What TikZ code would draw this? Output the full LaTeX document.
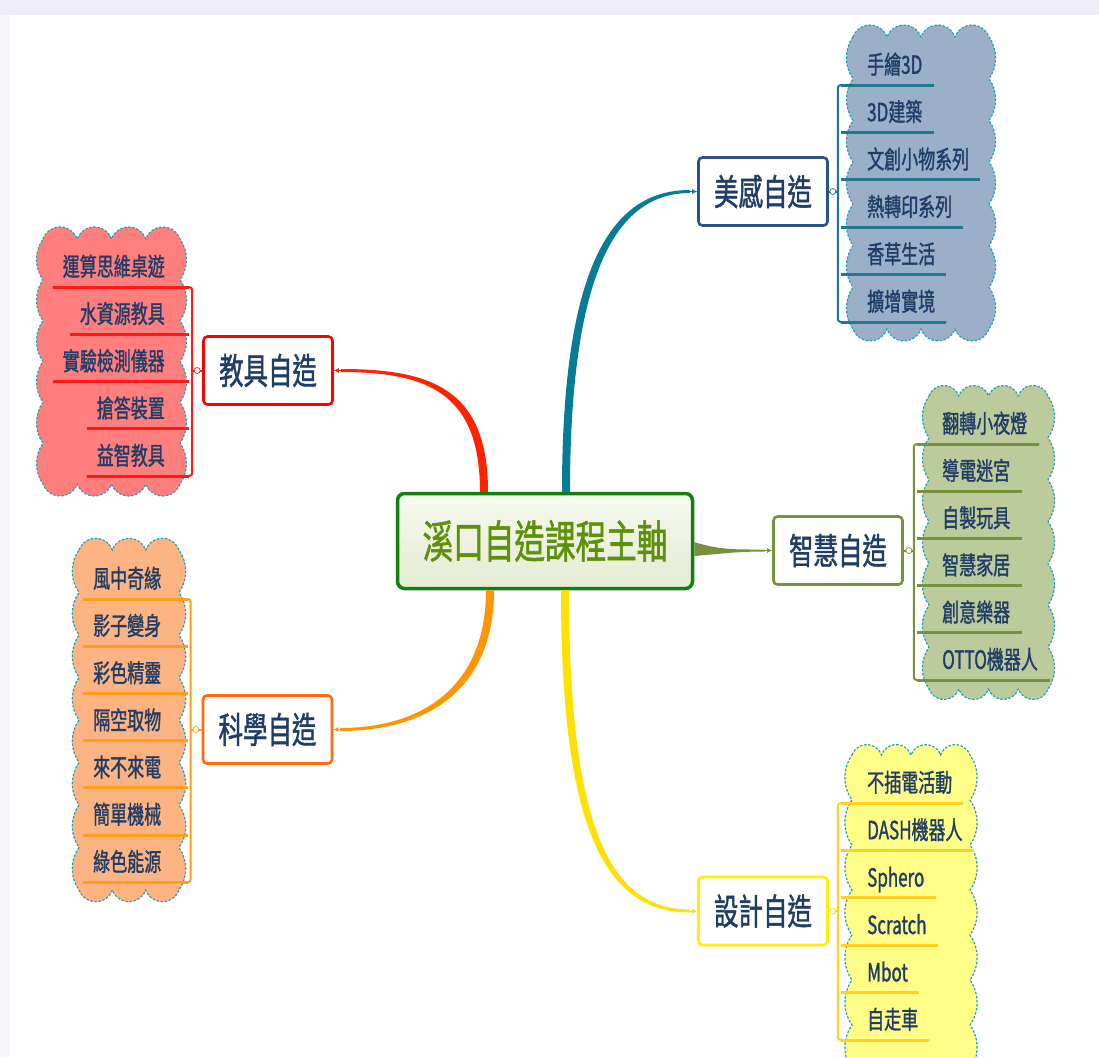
\documentclass[tikz,border=0pt]{standalone}
\usepackage{fontspec}
\usepackage{tikz}
\usetikzlibrary{arrows.meta,calc}
\newfontfamily\cjk[FakeStretch=0.68,FakeBold=1.2]{Noto Sans CJK TC}

\definecolor{frame}{HTML}{EEECF6}
\definecolor{framel}{HTML}{F7F6FB}
\definecolor{ink}{HTML}{1F3D66}
\definecolor{cloudedge}{HTML}{2A9FB2}
\definecolor{hubedge}{HTML}{12800F}
\definecolor{hubtext}{HTML}{5E910A}
\definecolor{hubtop}{HTML}{F6F9EF}
\definecolor{hubbot}{HTML}{E4EBD2}
\definecolor{mgcol}{HTML}{067C96}
\definecolor{mgedge}{HTML}{2C5482}
\definecolor{mgline}{HTML}{1F7890}
\definecolor{mgfill}{HTML}{9BB0C8}
\definecolor{jjcol}{HTML}{FF2200}
\definecolor{jjedge}{HTML}{FF0000}
\definecolor{jjline}{HTML}{FF1A1A}
\definecolor{jjfill}{HTML}{FF7F7F}
\definecolor{zhcol}{HTML}{76923C}
\definecolor{zhfill}{HTML}{BBCB9C}
\definecolor{sjcol}{HTML}{FFE100}
\definecolor{sjedge}{HTML}{FFF200}
\definecolor{sjline}{HTML}{FFD21F}
\definecolor{sjfill}{HTML}{FFFF88}
\definecolor{kxcol}{HTML}{FF9500}
\definecolor{kxedge}{HTML}{FF6A13}
\definecolor{kxline}{HTML}{FF9E1A}
\definecolor{kxfill}{HTML}{FDB382}

% scalloped box: x0 y0 x1 y1, bumps across, bumps down, fill
\newcommand{\cloudbox}[7]{%
  \pgfmathsetmacro{\cloudrt}{(#3-#1)/#5/(2*sin(70))}
  \pgfmathsetmacro{\cloudrs}{(#4-#2)/#6/(2*sin(35))}
  \filldraw[cloud, fill=#7] (#1,#2)
    \foreach \k in {1,...,#5} {arc[start angle=200, end angle=340, radius=\cloudrt]}
    \foreach \k in {1,...,#6} {arc[start angle=-35, end angle=35, radius=\cloudrs]}
    \foreach \k in {1,...,#5} {arc[start angle=20, end angle=160, radius=\cloudrt]}
    \foreach \k in {1,...,#6} {arc[start angle=145, end angle=215, radius=\cloudrs]}
    -- cycle;}

\begin{document}
\begin{tikzpicture}[x=1pt, y=-1pt, >={Latex[length=5pt,width=5pt]},
  cloud/.style={draw=cloudedge, line width=1.2pt, dash pattern=on 2.5pt off 1.6pt},
  hub/.style={draw=hubedge, top color=hubtop, bottom color=hubbot, rounded corners=7pt, line width=3.5pt, minimum width=295pt, minimum height=95pt, text=hubtext, font=\cjk\fontsize{45pt}{50pt}\selectfont},
  branch/.style={fill=white, rounded corners=4pt, line width=2.6pt, minimum width=129pt, minimum height=68pt, text=ink, font=\cjk\fontsize{36pt}{40pt}\selectfont},
  item/.style={inner sep=0pt, text depth=11pt, text=ink, font=\cjk\fontsize{25pt}{28pt}\selectfont},
  knob/.style={circle, fill=white, inner sep=0pt, minimum size=6pt, line width=0.7pt},
  bar/.style={line width=2pt, rounded corners=3pt},
  uline/.style={line width=3pt}]
	\useasboundingbox (0,0) rectangle (1099,1057);
	\fill[frame] (0,0) rectangle (1099,15);
	\fill[framel] (0,15) rectangle (10,1057);
	\fill[white] (10,15) rectangle (1099,1057);

	\cloudbox{853}{37}{989}{329}{4}{7}{mgfill}
	\cloudbox{43}{239}{180}{484}{4}{6}{jjfill}
	\cloudbox{929}{396}{1048}{689}{4}{7}{zhfill}
	\cloudbox{852}{755}{970}{1070}{4}{7}{sjfill}
	\cloudbox{79}{550}{179}{890}{3}{8}{kxfill}

	\node[hub] (hub) at (545,541) {溪口自造課程主軸};
	\node[branch, draw=mgedge] (meigan) at (763,191.5) {美感自造};
	\node[branch, draw=jjedge] (jiaoju) at (268,370.5) {教具自造};
	\node[branch, draw=zhcol] (zhihui) at (838,550.5) {智慧自造};
	\node[branch, draw=sjedge] (sheji) at (763,911) {設計自造};
	\node[branch, draw=kxedge] (kexue) at (267.5,729.5) {科學自造};

	\foreach \txt [count=\i] in {手繪3D, 3D建築, 文創小物系列, 熱轉印系列, 香草生活, 擴增實境}
		\node[item, anchor=south west] (mg\i) at (867,{85+(\i-1)*47.4}) {\txt};
	\foreach \txt [count=\i] in {運算思維桌遊, 水資源教具, 實驗檢測儀器, 搶答裝置, 益智教具}
		\node[item, anchor=south east] (jj\i) at (165,{287+(\i-1)*47.25}) {\txt};
	\foreach \txt [count=\i] in {翻轉小夜燈, 導電迷宮, 自製玩具, 智慧家居, 創意樂器, OTTO機器人}
		\node[item, anchor=south west] (zh\i) at (942,{444+(\i-1)*47.2}) {\txt};
	\foreach \txt [count=\i] in {不插電活動, DASH機器人, Sphero, Scratch, Mbot, 自走車}
		\node[item, anchor=south west] (sj\i) at (867,{803+(\i-1)*47.4}) {\txt};
	\foreach \txt [count=\i] in {風中奇緣, 影子變身, 彩色精靈, 隔空取物, 來不來電, 簡單機械, 綠色能源}
		\node[item, anchor=south west] (kx\i) at (93,{599+(\i-1)*47.2}) {\txt};

	\coordinate (mgbar) at ($(meigan.east)+(9,0)$);
	\coordinate (jjbar) at ($(jiaoju.west)+(-10,0)$);
	\coordinate (zhbar) at ($(zhihui.east)+(10,0)$);
	\coordinate (sjbar) at ($(sheji.east)+(9,0)$);
	\coordinate (kxbar) at ($(kexue.west)+(-11,0)$);

	% brackets on the right side
	\draw[bar, mgline] ([xshift=11pt]mg1.south east) -- (mg1.south -| mgbar) -- (mg6.south -| mgbar) -- ([xshift=11pt]mg6.south east);
	\foreach \i in {1,...,6} \draw[uline, mgline] ($(mg\i.south -| mgbar)+(3,0)$) -- ([xshift=11pt]mg\i.south east);
	\draw[bar, zhcol] ([xshift=12pt]zh1.south east) -- (zh1.south -| zhbar) -- (zh6.south -| zhbar) -- ([xshift=12pt]zh6.south east);
	\foreach \i in {1,...,6} \draw[uline, zhcol] ($(zh\i.south -| zhbar)+(3,0)$) -- ([xshift=12pt]zh\i.south east);
	\draw[bar, sjline] ([xshift=11pt]sj1.south east) -- (sj1.south -| sjbar) -- (sj6.south -| sjbar) -- ([xshift=11pt]sj6.south east);
	\foreach \i in {1,...,6} \draw[uline, sjline] ($(sj\i.south -| sjbar)+(3,0)$) -- ([xshift=11pt]sj\i.south east);
	% brackets on the left side
	\draw[bar, jjline] ([xshift=-10pt]jj1.south west) -- (jj1.south -| jjbar) -- (jj5.south -| jjbar) -- ([xshift=-10pt]jj5.south west);
	\foreach \i in {1,...,5} \draw[uline, jjline] ([xshift=-10pt]jj\i.south west) -- ($(jj\i.south -| jjbar)+(-3,0)$);
	\draw[bar, kxline] ([xshift=-10pt]kx1.south west) -- (kx1.south -| kxbar) -- (kx7.south -| kxbar) -- ([xshift=-10pt]kx7.south west);
	\foreach \i in {1,...,7} \draw[uline, kxline] ([xshift=-10pt]kx\i.south west) -- ($(kx\i.south -| kxbar)+(-3,0)$);

	\draw[mgline, line width=2pt] (meigan.east) -- (mgbar);
	\draw[zhcol, line width=2pt] (zhihui.east) -- (zhbar);
	\draw[sjline, line width=2pt] (sheji.east) -- (sjbar);
	\draw[jjline, line width=2pt] (jiaoju.west) -- (jjbar);
	\draw[kxline, line width=2pt] (kexue.west) -- (kxbar);
	\node[knob, draw=mgline] at ($(meigan.east)+(4,0)$) {};
	\node[knob, draw=zhcol] at ($(zhihui.east)+(5,0)$) {};
	\node[knob, draw=sjline] at ($(sheji.east)+(4,0)$) {};
	\node[knob, draw=jjline] at ($(jiaoju.west)+(-5,0)$) {};
	\node[knob, draw=kxline] at ($(kexue.west)+(-6,0)$) {};

	% tapered branches out of the hub
	\fill[mgcol] ($(hub.north)+(17,0)$) .. controls +(0,-236) and +(-74,0) .. ($(meigan.west)+(-7,-1.5)$)
		-- ($(meigan.west)+(-7,1.5)$) .. controls +(-70,0) and +(0,-228) .. ($(hub.north)+(25,0)$) -- cycle;
	\fill[jjcol] ($(hub.north)+(-57,0)$) .. controls +(0,-102) and +(92,0) .. ($(jiaoju.east)+(7,-1.5)$)
		-- ($(jiaoju.east)+(7,1.5)$) .. controls +(88,0) and +(0,-98) .. ($(hub.north)+(-65,0)$) -- cycle;
	\fill[kxcol] ($(hub.south)+(-51,0)$) .. controls +(0,102) and +(84,0) .. ($(kexue.east)+(7,1.5)$)
		-- ($(kexue.east)+(7,-1.5)$) .. controls +(80,0) and +(0,98) .. ($(hub.south)+(-59,0)$) -- cycle;
	\fill[sjcol] ($(hub.south)+(16,0)$) .. controls +(0,242) and +(-84,0) .. ($(sheji.west)+(-7,1.5)$)
		-- ($(sheji.west)+(-7,-1.5)$) .. controls +(-80,0) and +(0,238) .. ($(hub.south)+(24,0)$) -- cycle;
	\fill[zhcol] ($(hub.east)+(0,1)$) .. controls +(25,8) and +(-30,0) .. ($(zhihui.west)+(-7,-1)$)
		-- ($(zhihui.west)+(-7,1)$) .. controls +(-30,0) and +(25,-2) .. ($(hub.east)+(0,15)$) -- cycle;
	\draw[->, mgcol, line width=1pt] ($(meigan.west)+(-9,0)$) -- (meigan.west);
	\draw[->, jjcol, line width=1pt] ($(jiaoju.east)+(9,0)$) -- (jiaoju.east);
	\draw[->, kxcol, line width=1pt] ($(kexue.east)+(9,0)$) -- (kexue.east);
	\draw[->, sjcol, line width=1pt] ($(sheji.west)+(-9,0)$) -- (sheji.west);
	\draw[->, zhcol, line width=1pt] ($(zhihui.west)+(-9,0)$) -- (zhihui.west);
\end{tikzpicture}
\end{document}
